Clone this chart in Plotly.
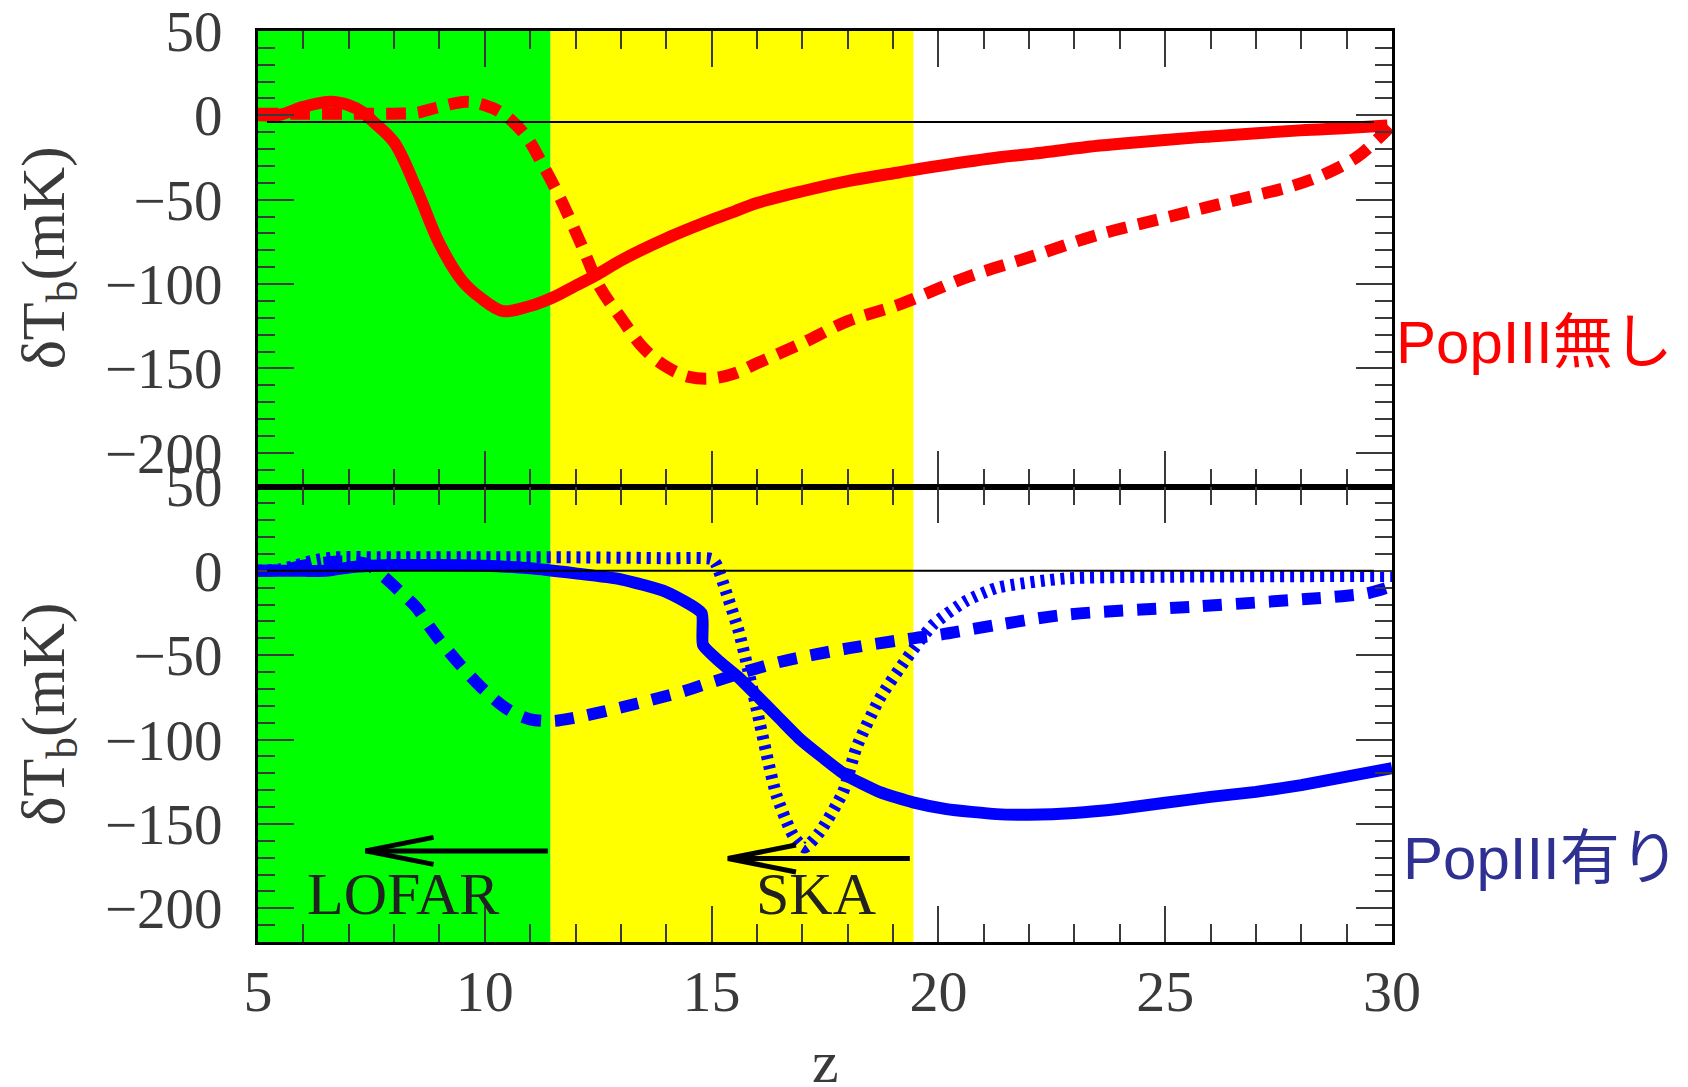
import plotly.graph_objects as go

# ---------------- data ----------------
# top panel (PopIII無し)
red_solid_z = [5.0, 5.5, 6.0, 6.6, 7.0, 7.3, 7.55, 8.0, 8.5, 9.0, 9.5, 9.9, 10.4, 11.0, 11.5, 12.0, 12.5, 13.0, 14.0, 15.0, 15.5, 16.0, 17.0, 18.0, 19.15, 20.0, 21.35, 22.0, 23.56, 24.0, 25.77, 26.0, 27.97, 29.0, 29.9]
red_solid_v = [0, 0.5, 5, 8, 6, 2, -4, -16, -44, -76, -98, -108, -116, -113, -108, -101, -94, -86, -73, -62, -57, -52, -45, -39, -33.7, -30, -24.8, -23, -17.9, -16.8, -12.9, -12.5, -8.9, -7.5, -6]
red_dash_z = [5.0, 6.0, 7.0, 8.0, 8.5, 9.0, 9.6, 10.0, 10.4, 10.9, 11.27, 11.66, 12.15, 12.54, 13.0, 13.5, 14.0, 14.5, 15.0, 15.5, 16.0, 17.0, 18.0, 19.15, 20.62, 22.02, 23.49, 24.88, 26.35, 27.82, 28.5, 29.22, 29.73, 29.95]
red_dash_v = [1, 1, 1, 1, 1.5, 5, 8, 6, 1, -12, -29, -49, -78, -102, -120, -138, -149, -155, -156, -153, -147, -135, -122, -112, -96, -84, -71, -61.5, -51.6, -41.7, -35, -24.8, -12.9, -7]

# bottom panel (PopIII有り)
blue_solid_z = [5.0, 6.0, 6.5, 7.0, 7.5, 8.0, 9.0, 10.0, 11.0, 12.0, 13.0, 14.0, 14.78, 14.81, 15.18, 15.62, 16.06, 16.5, 16.94, 17.39, 17.97, 18.71, 19.44, 20.18, 21.28, 22.0, 23.0, 24.0, 25.0, 26.0, 27.0, 28.0, 29.0, 30.0]
blue_solid_v = [0, 0, 0, 2, 3, 3.5, 3.5, 3, 1.5, -1.5, -5, -12.5, -25, -43.9, -53.9, -63.8, -75.7, -87.6, -99.5, -109.4, -121.3, -131.2, -137.2, -141.2, -144.2, -144.5, -143.5, -141, -137.5, -134, -131, -127, -122, -117]
blue_dash_z = [5.0, 5.5, 6.0, 6.5, 7.0, 7.4, 7.75, 8.12, 8.5, 8.78, 9.0, 9.5, 10.0, 10.5, 11.0, 11.5, 12.0, 13.0, 14.3, 15.0, 16.5, 18.0, 19.44, 20.0, 21.3, 22.8, 25.76, 28.9, 29.5, 30.0]
blue_dash_v = [0, 0.5, 3, 5, 5.5, 4, -3, -12, -22, -33, -41, -57, -71, -82, -88, -89, -87, -81, -72, -66, -54, -46, -40, -38, -32, -26, -21, -15, -13, -9]
blue_dot_z = [5.0, 5.5, 5.8, 6.2, 6.7, 8.0, 10.0, 12.0, 14.0, 15.0, 15.1, 15.35, 15.6, 15.8, 16.06, 16.43, 16.8, 17.05, 17.38, 17.9, 18.19, 18.7, 19.3, 19.88, 20.6, 21.3, 22.8, 25.0, 30.0]
blue_dot_v = [0, 1, 3, 6, 8, 8, 8, 8, 7.5, 7, 4, -15, -36, -58, -90, -133, -157, -164, -155, -131, -105, -76, -52, -32, -18, -10, -4.5, -3.5, -3]

# bands, reference lines, arrows, labels
band_green = [5.0, 11.45]
band_yellow = [11.45, 19.45]
ref_line_top = -4
ref_line_bottom = 0
ref_line_z = [5.2, 29.6]
arrow_tail_z = [11.39, 19.37]
arrow_head_z = [7.37, 15.36]
arrow_v = [-166, -170.5]
instrument_names = ["LOFAR", "SKA"]
instrument_z = [8.2, 17.31]
instrument_v = [-191.7, -191.7]
x_ticks = [5, 10, 15, 20, 25, 30]
y_ticks = [50, 0, -50, -100, -150, -200]
y_range = [-220, 50]
x_range = [5, 30]

SERIF = "Liberation Serif, Times New Roman, serif"
SANS = "Liberation Sans, Arial, Noto Sans CJK JP, sans-serif"
TICKCOL = "#3a3a3a"

fig = go.Figure()

RED = "#ff0000"
BLUE = "#0000ff"

fig.add_trace(go.Scatter(x=red_solid_z, y=red_solid_v, mode="lines",
                         line=dict(color=RED, width=12, shape="spline", smoothing=1.0),
                         xaxis="x", yaxis="y", showlegend=False))
fig.add_trace(go.Scatter(x=red_dash_z, y=red_dash_v, mode="lines",
                         line=dict(color=RED, width=12, dash="20px,12px", shape="spline", smoothing=1.0),
                         xaxis="x", yaxis="y", showlegend=False))

fig.add_trace(go.Scatter(x=blue_dot_z, y=blue_dot_v, mode="lines",
                         line=dict(color=BLUE, width=12, dash="4px,6px", shape="spline", smoothing=0.6),
                         xaxis="x2", yaxis="y2", showlegend=False))
fig.add_trace(go.Scatter(x=blue_dash_z, y=blue_dash_v, mode="lines",
                         line=dict(color=BLUE, width=12, dash="19px,14px", shape="spline", smoothing=0.9),
                         xaxis="x2", yaxis="y2", showlegend=False))
fig.add_trace(go.Scatter(x=blue_solid_z, y=blue_solid_v, mode="lines",
                         line=dict(color=BLUE, width=12, shape="spline", smoothing=0.5),
                         xaxis="x2", yaxis="y2", showlegend=False))

# arrows (shaft + open head), built from arrow arrays
barb_dz = 1.5
barb_dv = 8.0
for t, h, v in zip(arrow_tail_z, arrow_head_z, arrow_v):
    fig.add_trace(go.Scatter(x=[t, h], y=[v, v], mode="lines",
                             line=dict(color="black", width=5),
                             xaxis="x2", yaxis="y2", showlegend=False))
    fig.add_trace(go.Scatter(x=[h + barb_dz, h, h + barb_dz], y=[v + barb_dv, v, v - barb_dv], mode="lines",
                             line=dict(color="black", width=5),
                             xaxis="x2", yaxis="y2", showlegend=False))

shapes = [
    dict(type="rect", xref="x", yref="paper", x0=band_green[0], x1=band_green[1], y0=0, y1=1,
         fillcolor="#00ff00", line=dict(width=0), layer="below"),
    dict(type="rect", xref="x", yref="paper", x0=band_yellow[0], x1=band_yellow[1], y0=0, y1=1,
         fillcolor="#ffff00", line=dict(width=0), layer="below"),
    dict(type="line", xref="x", yref="y", x0=ref_line_z[0], x1=ref_line_z[1], y0=ref_line_top, y1=ref_line_top,
         line=dict(color="black", width=2)),
    dict(type="line", xref="x2", yref="y2", x0=ref_line_z[0], x1=ref_line_z[1], y0=ref_line_bottom, y1=ref_line_bottom,
         line=dict(color="black", width=2)),
]

annotations = []
for name, zz, vv in zip(instrument_names, instrument_z, instrument_v):
    annotations.append(dict(x=zz, y=vv, xref="x2", yref="y2", text=name, showarrow=False,
                            font=dict(family=SERIF, size=60, color="#222222"),
                            xanchor="center", yanchor="middle"))
for yc in [0.751, 0.25]:
    annotations.append(dict(x=-0.1856, y=yc, xref="paper", yref="paper",
                            text="δT<sub>b</sub>(mK)", textangle=-90, showarrow=False,
                            font=dict(family=SERIF, size=62, color=TICKCOL),
                            xanchor="center", yanchor="middle"))
annotations.append(dict(x=0.5, y=-0.132, xref="paper", yref="paper", text="z", showarrow=False,
                        font=dict(family=SERIF, size=60, color=TICKCOL), xanchor="center", yanchor="middle"))
annotations.append(dict(x=1.002, y=0.658, xref="paper", yref="paper", text="PopIII無し", showarrow=False,
                        font=dict(family=SANS, size=60, color="#ff0000"), xanchor="left", yanchor="middle"))
annotations.append(dict(x=1.008, y=0.092, xref="paper", yref="paper", text="PopIII有り", showarrow=False,
                        font=dict(family=SANS, size=60, color="#2e3192"), xanchor="left", yanchor="middle"))

xaxis_common = dict(range=x_range, tickvals=x_ticks, ticks="inside", ticklen=36, tickwidth=2,
                    tickcolor=TICKCOL, showline=True, linecolor="black", linewidth=3,
                    mirror="ticks", showgrid=False, zeroline=False, automargin=False,
                    ticklabeloverflow="allow",
                    minor=dict(dtick=1, tick0=5, ticks="inside", ticklen=18, tickwidth=2, tickcolor=TICKCOL, showgrid=False),
                    tickfont=dict(family=SERIF, size=58, color=TICKCOL))
yaxis_common = dict(range=y_range, tickvals=y_ticks, ticks="inside", ticklen=36, tickwidth=2,
                    tickcolor=TICKCOL, showline=True, linecolor="black", linewidth=3,
                    mirror="ticks", showgrid=False, zeroline=False, automargin=False,
                    ticklabeloverflow="allow",
                    minor=dict(dtick=10, tick0=0, ticks="inside", ticklen=17, tickwidth=2, tickcolor=TICKCOL, showgrid=False),
                    tickfont=dict(family=SERIF, size=57, color=TICKCOL), ticklabelstandoff=21)

# page body has an 8px default margin, so plot margins are shifted by 8px
fig.update_layout(
    width=1688, height=1087,
    margin=dict(l=250, r=304, t=23, b=153, autoexpand=False),
    paper_bgcolor="white", plot_bgcolor="white",
    xaxis=dict(**xaxis_common, domain=[0, 1], anchor="y", showticklabels=False),
    yaxis=dict(**yaxis_common, domain=[0.5, 1], anchor="x"),
    xaxis2=dict(**xaxis_common, domain=[0, 1], anchor="y2", showticklabels=True, ticklabelstandoff=-4),
    yaxis2=dict(**yaxis_common, domain=[0, 0.5], anchor="x2"),
    shapes=shapes,
    annotations=annotations,
    showlegend=False,
)

fig.write_html("out.html")
